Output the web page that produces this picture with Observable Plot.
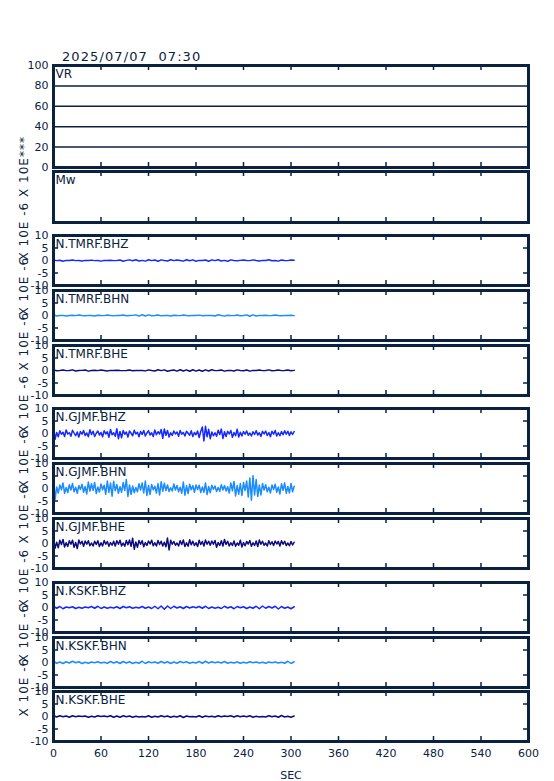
<!DOCTYPE html>
<html>
<head>
<meta charset="utf-8">
<script src="https://cdn.jsdelivr.net/npm/d3@7"></script>
<script src="https://cdn.jsdelivr.net/npm/@observablehq/plot@0.6"></script>
<style>
  html, body { margin: 0; padding: 0; background: #fff; }
  #chart { position: relative; width: 554px; height: 781px; font-family: "DejaVu Sans", sans-serif; }
  #title { position: absolute; left: 62px; top: 49px; font-size: 13px; letter-spacing: 1.1px; color: #0a2240; white-space: pre; }
</style>
</head>
<body>
<div id="chart"><div id="title"></div></div>
<script>
// ---------- data ----------
const titleText = "2025/07/07  07:30";
const xTickValues = [0, 60, 120, 180, 240, 300, 360, 420, 480, 540, 600];
const xLabel = "SEC";
const vrTicks = [0, 20, 40, 60, 80, 100];
const vrGrid = [20, 40, 60, 80];
const waveTicks = [10, 5, 0, -5, -10];
const waveYLabel = "X 10E -6";
const mwYLabel = "X 10E***";
const stations = ["N.TMRF.BHZ", "N.TMRF.BHN", "N.TMRF.BHE", "N.GJMF.BHZ", "N.GJMF.BHN", "N.GJMF.BHE", "N.KSKF.BHZ", "N.KSKF.BHN", "N.KSKF.BHE"];

// quiet traces, one sample every 4 s (0..304 s)
const dtQuiet = 4;
const tmrfBHZ = [0.25,-0.05,0.1,-0.3,0.05,0.0,0.2,-0.05,0.0,-0.2, 0.05,0.0,0.15,-0.05,0.0,-0.25,0.05,0.0,0.1,-0.05,
  0.0,0.2,-0.3,0.05,0.25,-0.1,0.3,-0.2,0.05,-0.25, 0.3,-0.05,0.2,-0.3,0.25,0.0,-0.2,0.3,-0.05,0.2,
  0.0,-0.25,0.3,-0.1,0.25,-0.3,0.05,0.0,0.2,-0.3, 0.25,-0.05,0.3,-0.2,0.05,-0.3,0.25,0.0,-0.1,0.05,
  0.2,0.0,-0.05,0.25,0.0,-0.2,0.05,0.0,0.3,-0.1, 0.0,-0.25,0.2,0.0,-0.05,0.2,0.1];
const tmrfBHN = [0.3,-0.2,0.0,0.05,-0.2,0.0,0.1,-0.05,0.2,0.0, -0.1,0.05,0.0,-0.2,0.1,0.0,-0.05,0.2,0.0,-0.15,
  0.05,0.0,0.2,-0.1,0.0,0.05,0.25,-0.25,0.3,-0.2, 0.25,-0.1,0.0,0.2,-0.15,0.0,0.05,-0.2,0.1,0.0,
  -0.05,0.2,0.0,-0.1,0.05,0.0,0.15,-0.1,0.0,0.05, 0.0,-0.2,0.3,0.0,-0.25,0.1,0.0,-0.05,0.2,-0.1,
  0.0,0.25,-0.3,0.25,-0.2,0.05,0.0,0.1,-0.05,0.0, 0.2,0.0,-0.1,0.05,0.0,0.1,-0.05];
const tmrfBHE = [0.3,-0.1,0.0,0.2,-0.05,0.0,0.25,-0.2,0.0,0.05, 0.2,-0.25,0.0,0.1,-0.05,0.2,0.0,-0.2,0.05,0.0,
  0.1,0.0,-0.05,0.0,0.2,-0.1,0.0,0.05,0.0,-0.15, 0.25,0.0,-0.2,0.3,-0.05,0.25,-0.3,0.0,0.2,-0.25,
  0.3,-0.2,0.25,-0.3,0.3,-0.25,0.2,-0.3,0.25,-0.2, 0.3,-0.05,0.0,0.2,-0.25,0.0,0.05,-0.2,0.25,0.0,
  -0.1,0.2,-0.25,0.05,0.0,0.2,-0.05,0.0,0.25,-0.1, 0.0,0.2,-0.05,0.0,0.2,-0.1,0.05];
const kskfBHZ = [0.5,-0.3,0.4,-0.5,0.2,-0.1,0.3,-0.4,0.1,-0.3, 0.2,-0.1,0.4,-0.3,0.5,-0.4,0.2,-0.3,0.1,-0.2,
  0.3,-0.4,0.4,-0.1,0.3,-0.3,0.1,-0.2,0.4,-0.3, 0.2,-0.4,0.5,-0.5,0.6,-0.7,0.6,-0.4,0.5,-0.2,
  0.3,-0.4,0.4,-0.2,0.3,-0.1,0.4,-0.3,0.5,-0.4, 0.2,-0.3,0.1,-0.4,0.5,-0.2,0.3,-0.5,0.4,-0.1,
  0.3,-0.4,0.2,-0.3,0.5,-0.5,0.6,-0.3,0.4,-0.2, 0.5,-0.6,0.4,-0.3,0.2,-0.5,0.3];
const kskfBHN = [0.5,-0.3,0.2,-0.4,0.3,-0.2,0.5,-0.1,0.3,-0.4, 0.1,-0.3,0.2,-0.1,0.3,-0.2,0.1,-0.3,0.4,-0.2,
  0.3,-0.4,0.4,-0.2,0.3,-0.4,0.1,-0.3,0.5,-0.4, 0.3,-0.1,0.2,-0.3,0.4,-0.2,0.3,-0.4,0.2,-0.3,
  0.4,-0.1,0.3,-0.3,0.1,-0.2,0.4,-0.3,0.5,-0.2, 0.3,-0.1,0.2,-0.2,0.4,-0.3,0.1,-0.2,0.2,-0.3,
  0.1,-0.2,0.3,-0.1,0.2,-0.2,0.1,-0.3,0.2,-0.1, 0.2,-0.2,0.1,-0.3,0.5,-0.4,0.3];
const kskfBHE = [0.4,-0.2,0.3,-0.1,0.2,-0.3,0.3,-0.1,0.2,0.0, 0.2,-0.3,0.1,-0.2,0.3,0.0,0.2,-0.1,0.3,-0.3,
  0.2,-0.3,0.3,-0.1,0.2,-0.3,0.1,-0.2,0.0,-0.2, 0.3,-0.3,0.1,-0.2,0.3,-0.1,0.2,-0.3,0.1,-0.2,
  0.3,-0.4,0.2,-0.1,0.0,-0.2,0.3,-0.3,0.2,-0.1, 0.1,-0.2,0.3,-0.1,0.2,0.0,0.3,-0.2,0.3,-0.1,
  0.2,-0.1,0.3,-0.3,0.1,-0.2,0.0,-0.2,0.3,-0.1, 0.2,-0.3,0.4,-0.2,0.1,-0.3,0.2];

// GJMF traces, one sample every 2 s (0..304 s)
const dtLoud = 2;
const gjmfBHZ = [2.6,-2.3,0.4,-1.3,1.1,-0.3,0.5,-1.2,1.4,-0.2, 0.3,-1.1,1.3,0.2,-0.9,0.6,-1.4,0.8,-0.3,1.2,
  -0.8,0.2,-1.3,1.5,-0.4,0.9,-1.2,0.1,1.0,-0.6, 0.4,-1.3,1.1,-0.2,0.7,-1.5,1.6,-0.5,0.3,-1.1,
  1.9,-2.1,0.8,-1.7,1.2,-0.3,0.6,-1.4,1.0,0.1, -0.9,1.3,-0.2,0.5,-1.3,0.8,-0.4,1.2,-1.0,0.2,
  1.1,-0.6,0.3,-1.2,1.4,-0.5,0.7,-0.2,1.6,-1.9, 1.8,-0.7,1.2,-1.4,0.3,-0.8,1.0,-0.2,0.6,-1.1,
  1.2,-0.3,0.4,-1.0,0.9,0.1,-0.7,1.1,-1.2,0.4, -0.5,1.0,-1.6,0.8,2.6,-3.0,2.9,-1.3,1.7,-2.1,
  0.6,-0.9,0.3,-1.1,1.3,-0.4,1.8,-2.0,0.7,-1.2, 0.9,-0.2,1.2,-1.5,0.4,-0.9,1.7,-1.4,0.5,-1.0,
  0.8,-0.3,1.0,-0.7,0.2,-1.0,0.7,-0.4,1.1,-0.6, 0.3,-1.2,0.9,-0.2,1.0,-0.8,0.4,-1.3,0.9,-0.3,
  1.2,-1.0,0.3,-0.9,0.8,-0.5,1.1,-0.3,0.9,-0.8, 0.7,-0.4,0.8];
const gjmfBHN = [4.8,-4.4,0.6,-1.8,1.4,-0.5,2.2,-1.9,0.4,-1.6, 1.5,-0.6,2.0,-1.3,0.5,-1.9,1.2,-0.4,1.7,-1.5,
  0.8,-2.2,2.6,-1.0,1.9,-0.7,2.4,-2.0,0.6,-1.4, 1.8,-0.5,1.3,-2.3,3.0,-1.6,2.2,-3.1,2.9,-0.9,
  1.6,-1.9,0.7,-1.5,2.4,-0.8,3.6,-3.2,1.4,-2.3, 1.0,-1.7,0.4,-1.3,1.9,-0.6,2.2,-1.8,3.0,-2.8,
  1.2,-2.4,1.6,-0.5,0.9,-1.8,2.0,-2.6,2.7,-1.1, 2.1,-0.8,1.4,-1.2,0.3,-1.0,1.8,-0.6,1.2,-1.3,
  0.5,-1.9,2.6,-2.7,1.1,-2.0,1.7,-0.5,1.2,-1.5, 1.4,-0.4,1.3,-1.6,0.6,-1.5,2.2,-2.4,0.8,-1.7,
  1.3,-0.3,1.0,-1.2,0.4,-1.1,1.5,-0.6,1.2,-1.0, 0.7,-1.8,2.2,-0.9,2.8,-3.0,1.2,-2.3,2.0,-2.8,
  2.4,-0.8,3.0,-3.4,4.2,-4.7,5.1,-2.6,3.6,-3.2, 1.4,-2.6,2.0,-0.6,1.5,-1.3,0.5,-1.8,1.4,-0.4,
  1.7,-1.5,0.6,-2.2,1.9,-0.7,2.2,-1.9,0.8,-1.8, 2.0,-1.3,0.9];
const gjmfBHE = [2.1,-1.9,0.5,-1.7,1.3,-0.4,1.6,-1.4,0.3,-1.2, 1.1,-0.3,1.3,-1.5,0.4,-2.0,1.4,-0.2,0.9,-1.1,
  1.0,-0.3,1.1,-0.9,0.2,-1.0,0.9,-0.4,1.1,-1.2, 0.3,-1.0,1.2,-0.3,0.8,-1.1,0.4,-0.7,0.9,-1.0,
  1.1,-0.3,1.3,-1.0,0.2,-1.1,1.2,-0.5,1.4,-1.1, 2.1,-2.3,0.6,-1.5,1.2,-0.3,1.1,-1.3,0.4,-0.8,
  1.0,-0.2,1.3,-0.9,0.3,-1.0,1.2,-0.4,0.9,-1.0, 0.5,-1.3,2.2,-2.6,1.3,-0.3,0.8,-0.7,0.2,-1.0,
  1.1,-0.4,1.4,-1.2,0.3,-1.1,1.5,-0.5,0.9,-0.8, 0.3,-1.2,1.3,-0.4,0.8,-1.0,1.4,-0.3,0.9,-0.7,
  1.0,-0.3,1.2,-1.5,0.4,-0.8,1.1,-1.0,1.6,-0.4, 0.9,-1.0,0.3,-0.8,1.0,-1.1,0.2,-0.7,1.3,-1.4,
  0.4,-0.9,0.8,-0.2,1.2,-1.1,0.3,-0.8,1.0,-1.2, 1.4,-0.3,0.9,-0.7,0.2,-1.0,1.1,-0.4,0.7,-0.8,
  1.0,-0.2,0.8,-1.0,1.1,-0.3,0.9,-0.8,0.2,-0.9, 0.8,-0.6,0.5];

const traces = [tmrfBHZ, tmrfBHN, tmrfBHE, gjmfBHZ, gjmfBHN, gjmfBHE, kskfBHZ, kskfBHN, kskfBHE];
const traceDt = [dtQuiet, dtQuiet, dtQuiet, dtLoud, dtLoud, dtLoud, dtQuiet, dtQuiet, dtQuiet];

// ---------- style / layout ----------
document.getElementById("title").textContent = titleText;
const INK = "#0a2240";
const COMP = {BHZ: "#1428ff", BHN: "#1a8cff", BHE: "#0c0c80"};
const W = 554, ML = 53, MR = 26;
const innerW = W - ML - MR;
const waveTops = [235, 290, 345, 408, 463, 518, 582, 636.5, 691];
const waveH = 50;
const chart = document.getElementById("chart");
const xIn = xTickValues.slice(1, -1);

function addPanel({top, h, ydomain, marks, xaxis}) {
  const mt = 20, mb = xaxis ? 50 : 12;
  const svg = Plot.plot({
    width: W, height: h + mt + mb,
    marginLeft: ML, marginRight: MR, marginTop: mt, marginBottom: mb,
    style: {background: "transparent", overflow: "visible", fontFamily: "DejaVu Sans, sans-serif", fontSize: "12px", color: INK},
    x: {domain: [0, 600], axis: null},
    y: {domain: ydomain, axis: null},
    marks: [
      ...marks,
      Plot.ruleX(xIn, {stroke: INK, strokeWidth: 1.5, insetBottom: h - 5}),
      Plot.ruleX(xIn, {stroke: INK, strokeWidth: 1.5, insetTop: h - 5}),
      Plot.frame({stroke: INK, strokeWidth: 3}),
      ...(xaxis ? [Plot.axisX(xTickValues, {anchor: "bottom", tickSize: 0, tickPadding: 8, fontSize: 11, tickFormat: d => String(d),
        label: xLabel, labelAnchor: "center", labelArrow: "none", labelOffset: 37, color: INK})] : [])
    ]
  });
  svg.style.position = "absolute";
  svg.style.left = "0px";
  svg.style.top = (top - mt) + "px";
  svg.querySelectorAll("text").forEach(t => {
    if (t.textContent.startsWith("X 10E")) t.style.letterSpacing = "1px";
  });
  chart.appendChild(svg);
}

// VR panel
addPanel({
  top: 65, h: 102, ydomain: [0, 100],
  marks: [
    Plot.ruleY(vrGrid, {stroke: INK, strokeWidth: 1.5}),
    Plot.axisY(vrTicks, {anchor: "left", tickSize: 0, tickPadding: 5, fontSize: 11, tickFormat: d => String(d), label: null, color: INK}),
    Plot.text(["VR"], {frameAnchor: "top-left", dx: 2, dy: 4, textAnchor: "start", lineAnchor: "top", fill: INK, fontSize: 12})
  ]
});

// Mw panel
addPanel({
  top: 171, h: 51, ydomain: [0, 1],
  marks: [
    Plot.text(["Mw"], {frameAnchor: "top-left", dx: 2, dy: 4, textAnchor: "start", lineAnchor: "top", fill: INK, fontSize: 12}),
    Plot.text([mwYLabel], {frameAnchor: "left", dx: -29, rotate: -90, fill: INK, fontSize: 12})
  ]
});

// waveform panels
stations.forEach((name, k) => {
  const comp = name.slice(-3);
  const dt = traceDt[k];
  const data = traces[k].map((v, i) => ({t: i * dt, v}));
  addPanel({
    top: waveTops[k], h: waveH, ydomain: [-10, 10], xaxis: k === stations.length - 1,
    marks: [
      Plot.ruleY([-5, 5], {stroke: INK, strokeWidth: 1.5, insetRight: innerW - 5}),
      Plot.ruleY([-5, 5], {stroke: INK, strokeWidth: 1.5, insetLeft: innerW - 5}),
      Plot.line(data, {x: "t", y: "v", stroke: COMP[comp], strokeWidth: 1.5, clip: true}),
      Plot.axisY(waveTicks, {anchor: "left", tickSize: 0, tickPadding: 5, fontSize: 11, tickFormat: d => String(d), label: null, color: INK}),
      Plot.text([name], {frameAnchor: "top-left", dx: 2, dy: 4, textAnchor: "start", lineAnchor: "top", fill: INK, fontSize: 12}),
      Plot.text([waveYLabel], {frameAnchor: "left", dx: -29, rotate: -90, fill: INK, fontSize: 12})
    ]
  });
});
</script>
</body>
</html>
